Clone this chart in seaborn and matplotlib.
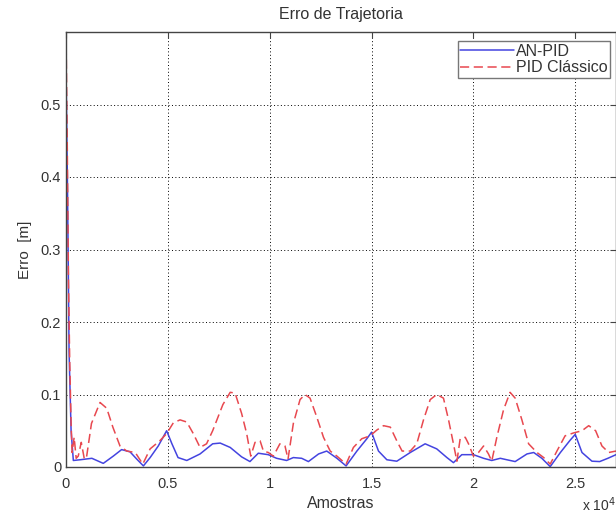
import numpy as np
import pandas as pd
import seaborn as sns
from matplotlib import pyplot as plt

# values (x in units of 1e4 samples, y in m)
an_x = [0, 0.004, 0.008, 0.015, 0.025, 0.036, 0.07, 0.127, 0.183, 0.232, 0.273, 0.314, 0.347, 0.38,
        0.413, 0.453, 0.494, 0.52, 0.55, 0.593, 0.658, 0.72, 0.757, 0.806, 0.862, 0.903, 0.944,
        0.993, 1.034, 1.083, 1.116, 1.157, 1.19, 1.24, 1.28, 1.33, 1.375, 1.428, 1.477, 1.50,
        1.534, 1.575, 1.624, 1.69, 1.763, 1.82, 1.87, 1.902, 1.943, 2.0, 2.05, 2.09, 2.132, 2.164,
        2.205, 2.263, 2.296, 2.336, 2.377, 2.427, 2.475, 2.5, 2.533, 2.582, 2.62, 2.66, 2.70]
an_y = [0.55, 0.46, 0.37, 0.16, 0.05, 0.009, 0.010, 0.012, 0.005, 0.015, 0.024, 0.021, 0.011, 0.0015,
        0.013, 0.029, 0.05, 0.032, 0.013, 0.009, 0.018, 0.032, 0.033, 0.027, 0.014, 0.0075, 0.019,
        0.017, 0.012, 0.009, 0.013, 0.012, 0.0075, 0.018, 0.022, 0.012, 0.0015, 0.022, 0.039, 0.048,
        0.022, 0.010, 0.008, 0.020, 0.032, 0.025, 0.013, 0.006, 0.017, 0.017, 0.012, 0.009, 0.012,
        0.010, 0.0075, 0.018, 0.020, 0.012, 0.0005, 0.020, 0.037, 0.045, 0.020, 0.008, 0.0075,
        0.012, 0.017]

pid_x = [0, 0.006, 0.012, 0.018, 0.025, 0.03, 0.04, 0.05, 0.06, 0.075, 0.09, 0.1, 0.125, 0.167,
         0.2, 0.23, 0.265, 0.298, 0.34, 0.377, 0.413, 0.46, 0.494, 0.527, 0.56, 0.593, 0.625, 0.658,
         0.69, 0.72, 0.77, 0.806, 0.83, 0.862, 0.887, 0.907, 0.928, 0.953, 0.969, 0.993, 1.018,
         1.05, 1.075, 1.09, 1.116, 1.149, 1.173, 1.198, 1.231, 1.264, 1.297, 1.33, 1.375, 1.411,
         1.452, 1.493, 1.526, 1.559, 1.592, 1.624, 1.65, 1.69, 1.722, 1.755, 1.788, 1.82, 1.853,
         1.878, 1.902, 1.919, 1.935, 1.96, 1.976, 2.0, 2.025, 2.05, 2.074, 2.09, 2.115, 2.148, 2.18,
         2.205, 2.238, 2.271, 2.312, 2.345, 2.377, 2.41, 2.45, 2.492, 2.533, 2.566, 2.6, 2.631,
         2.664, 2.70]
pid_y = [0.6, 0.45, 0.26, 0.15, 0.06, 0.02, 0.041, 0.012, 0.015, 0.034, 0.011, 0.012, 0.06, 0.089,
         0.081, 0.055, 0.029, 0.022, 0.020, 0.004, 0.025, 0.036, 0.046, 0.061, 0.065, 0.062, 0.046,
         0.027, 0.032, 0.050, 0.086, 0.103, 0.102, 0.074, 0.046, 0.015, 0.034, 0.036, 0.022, 0.020,
         0.015, 0.032, 0.029, 0.011, 0.060, 0.093, 0.100, 0.095, 0.069, 0.041, 0.022, 0.015, 0.004,
         0.027, 0.039, 0.043, 0.051, 0.057, 0.055, 0.036, 0.022, 0.022, 0.032, 0.065, 0.093, 0.100,
         0.095, 0.065, 0.032, 0.008, 0.039, 0.041, 0.032, 0.015, 0.020, 0.029, 0.018, 0.008, 0.041,
         0.079, 0.103, 0.095, 0.065, 0.032, 0.020, 0.013, 0.004, 0.022, 0.043, 0.047, 0.050, 0.057,
         0.050, 0.029, 0.020, 0.022]

x_ticks = [0, 0.5, 1, 1.5, 2, 2.5]
y_ticks = [0, 0.1, 0.2, 0.3, 0.4, 0.5]

sns.set_style('white')
plt.rcParams['font.family'] = ['Liberation Sans', 'DejaVu Sans']
plt.rcParams['font.size'] = 10
txt = '#333333'

fig = plt.figure(figsize=(6.16, 5.14), dpi=100)
ax = fig.add_axes([66/616, 47/514, 550/616, 435/514])

sns.lineplot(x=an_x, y=an_y, ax=ax, color='#4444e0', lw=1.1, sort=False, label='AN-PID')
sns.lineplot(x=pid_x, y=pid_y, ax=ax, color='#e8484f', lw=1.1, sort=False, label='PID Clássico',
             linestyle=(0, (6, 3)))

ax.set_xlim(0, 2.7)
ax.set_ylim(0, 0.6)
ax.set_xticks(x_ticks)
ax.set_xticklabels([f'{v:g}' for v in x_ticks])
ax.set_yticks(y_ticks)
ax.set_yticklabels([f'{v:g}' for v in y_ticks])
ax.grid(True, color='black', linestyle=(0, (1, 2.5)), linewidth=0.7)
ax.tick_params(direction='in', top=True, right=True, length=4, colors='#444444',
               labelcolor=txt, labelsize=10.5)
ax.tick_params(axis='x', pad=7)
for s in ax.spines.values():
    s.set_color('#444444')
    s.set_linewidth(1.0)

ax.set_title('Erro de Trajetoria', color=txt, fontsize=11.5, pad=9)
ax.set_xlabel('Amostras', color=txt, fontsize=11.5, labelpad=4)
ax.set_ylabel('Erro  [m]', color=txt, fontsize=11, labelpad=6)
ax.text(1.0, -0.1, 'x 10$^4$', transform=ax.transAxes, ha='right', va='baseline',
        color=txt, fontsize=10)

leg = ax.legend(loc='upper right', bbox_to_anchor=(0.989, 0.979), fancybox=False, framealpha=1,
                edgecolor='#777777', handlelength=3.4, handletextpad=0.1, borderpad=0.15,
                labelspacing=0.1, borderaxespad=0, fontsize=11.5)
leg.get_frame().set_linewidth(1.0)
for t in leg.get_texts():
    t.set_color(txt)

fig.savefig('out.png', dpi=100)
